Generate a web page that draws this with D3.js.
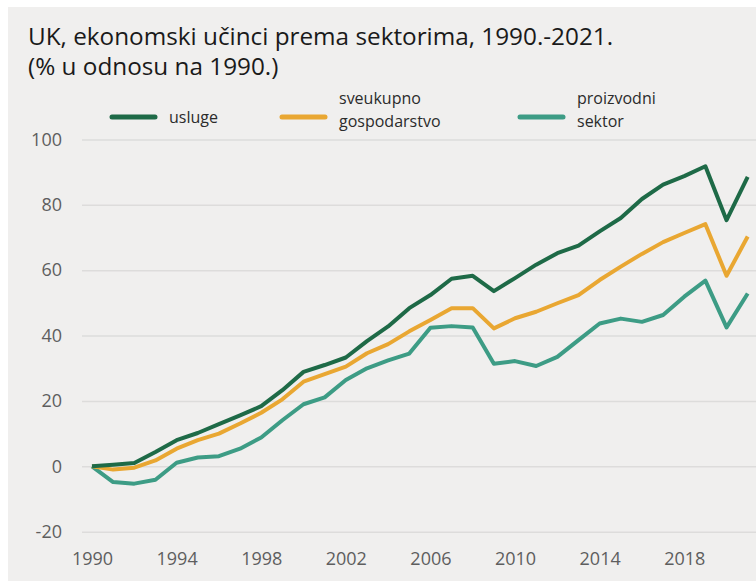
<!DOCTYPE html>
<html>
<head>
<meta charset="utf-8">
<script src="https://cdn.jsdelivr.net/npm/d3@7"></script>
<style>
  body { margin: 0; background: #fff; }
  svg { display: block; font-family: "Open Sans", "DejaVu Sans", sans-serif; }
</style>
</head>
<body>
<svg width="756" height="581"></svg>
<script>
// godine 1990.-2021.
const years = d3.range(1990, 2022);

// % u odnosu na 1990.
const usluge = [0, 0.5, 1, 4.4, 8, 10.2, 12.9, 15.6, 18.4, 23.3, 28.9, 31, 33.3, 38.3, 42.8, 48.4,
  52.4, 57.4, 58.3, 53.6, 57.6, 61.7, 65.2, 67.5, 71.9, 76, 81.8, 86.2, 88.8, 91.8, 75.3, 88.6];
const ukupno = [0, -1, -0.4, 1.8, 5.4, 8, 10, 13.1, 16.4, 20.5, 25.9, 28.2, 30.5, 34.6, 37.4, 41.3,
  44.8, 48.4, 48.4, 42.2, 45.3, 47.3, 49.9, 52.4, 57, 61.1, 65, 68.6, 71.4, 74.1, 58.3, 70.3];
const proizvodni = [0, -4.8, -5.3, -4.1, 1.1, 2.7, 3.1, 5.4, 8.8, 14.1, 19, 21.1, 26.4, 30, 32.4, 34.5,
  42.4, 42.9, 42.5, 31.4, 32.2, 30.7, 33.5, 38.6, 43.7, 45.2, 44.2, 46.3, 51.9, 56.8, 42.5, 52.9];

const seriesNames = [["usluge"], ["sveukupno", "gospodarstvo"], ["proizvodni", "sektor"]];
const seriesColors = ["#1e6a47", "#e9a732", "#3d9c85"];
const yTicks = [-20, 0, 20, 40, 60, 80, 100];
const xTicks = [1990, 1994, 1998, 2002, 2006, 2010, 2014, 2018];

const svg = d3.select("svg");
const W = 756, H = 581;

svg.append("rect").attr("x", 8).attr("y", 7)
  .attr("width", W - 8).attr("height", H - 7).attr("fill", "#f0efee");

// naslov
const title = svg.append("text").attr("x", 28).attr("y", 45)
  .attr("fill", "#1a1a1a").style("font-size", "24.3px");
title.append("tspan").text("UK, ekonomski učinci prema sektorima, 1990.-2021.");
title.append("tspan").attr("x", 28).attr("dy", 30).text("(% u odnosu na 1990.)");

const x = d3.scaleLinear().domain([1990, 2021]).range([92, 747.7]);
const y = d3.scaleLinear().domain([-20, 100]).range([531.7, 139.5]);

// y os s mrezom
svg.append("g")
  .attr("transform", "translate(82,0)")
  .call(d3.axisLeft(y).tickValues(yTicks).tickFormat(d => String(d)).tickSize(-(W - 82)).tickPadding(20))
  .call(g => g.select(".domain").remove())
  .call(g => g.selectAll("line").attr("stroke", "#dddcdb").attr("stroke-width", 1.5))
  .call(g => g.selectAll("text").attr("fill", "#5e5e5e").style("font-size", "18px")
    .style("font-family", "'Open Sans', sans-serif"));

// x os
svg.append("g")
  .attr("transform", `translate(0,${y(-20)})`)
  .call(d3.axisBottom(x).tickValues(xTicks).tickFormat(d3.format("d")).tickSize(0).tickPadding(21))
  .call(g => g.select(".domain").remove())
  .call(g => g.selectAll("text").attr("fill", "#5e5e5e").style("font-size", "18px")
    .style("font-family", "'Open Sans', sans-serif"));

const series = [usluge, ukupno, proizvodni];
const line = d3.line().x((d, i) => x(years[i])).y(d => y(d));

// crtaj od zadnjeg prema prvom da tamnozelena bude gore
[2, 1, 0].forEach(k => {
  svg.append("path")
    .datum(series[k])
    .attr("fill", "none")
    .attr("stroke", seriesColors[k])
    .attr("stroke-width", 4)
    .attr("stroke-linejoin", "round")
    .attr("d", line);
});

// legenda
const legendX = [112, 282, 520];
const legend = svg.append("g").style("font-size", "16px").attr("fill", "#2b2b2b");
seriesNames.forEach((name, k) => {
  const g = legend.append("g").attr("transform", `translate(${legendX[k]},117)`);
  g.append("line").attr("x1", 0).attr("x2", 43)
    .attr("stroke", seriesColors[k]).attr("stroke-width", 5).attr("stroke-linecap", "round");
  const t = g.append("text").attr("x", 57);
  if (name.length === 1) {
    t.append("tspan").attr("y", 6).text(name[0]);
  } else {
    t.append("tspan").attr("x", 57).attr("y", -13).text(name[0]);
    t.append("tspan").attr("x", 57).attr("y", 10).text(name[1]);
  }
});
</script>
</body>
</html>
